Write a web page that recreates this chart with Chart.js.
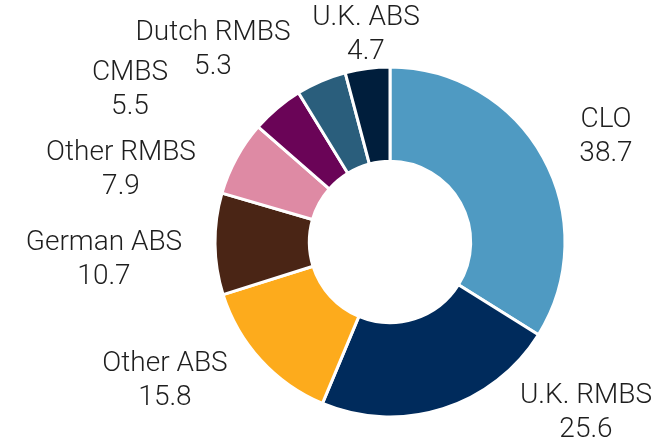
<!DOCTYPE html>
<html>
<head>
<meta charset="utf-8">
<script src="https://cdn.jsdelivr.net/npm/chart.js@4/dist/chart.umd.min.js"></script>
<style>
  html, body { margin: 0; padding: 0; background: #fff; }
  #wrap { width: 667px; height: 443px; }
</style>
</head>
<body>
<div id="wrap"><canvas id="donut"></canvas></div>
<script>
// data (clockwise from 12 o'clock)
const categories = ['CLO', 'U.K. RMBS', 'Other ABS', 'German ABS', 'Other RMBS', 'CMBS', 'Dutch RMBS', 'U.K. ABS'];
const values = [38.7, 25.6, 15.8, 10.7, 7.9, 5.5, 5.3, 4.7];
const colors = ['#4f9ac2', '#002b5c', '#fdab1c', '#4a2515', '#de8aa4', '#6a0457', '#2a5e7c', '#001e3c'];

// where each label sits, relative to the doughnut centre (first line)
const labelOffsets = [
  [216, -122], [196, 154], [-225, 122], [-286, 1],
  [-269, -89], [-260, -169], [-177, -209], [-24, -224]
];

const labelPlugin = {
  id: 'outsideLabels',
  afterDatasetsDraw: (chart) => {
    const ctx = chart.ctx;
    const arc = chart.getDatasetMeta(0).data[0];
    const cx = arc.x, cy = arc.y;
    ctx.save();
    ctx.font = '300 28px Roboto';
    ctx.fillStyle = '#1e1e1e';
    ctx.textAlign = 'center';
    ctx.textBaseline = 'middle';
    chart.data.labels.forEach((label, i) => {
      const [dx, dy] = labelOffsets[i];
      ctx.fillText(label, cx + dx, cy + dy);
      ctx.fillText(chart.data.datasets[0].data[i].toFixed(1), cx + dx, cy + dy + 34);
    });
    ctx.restore();
  }
};

new Chart(document.getElementById('donut').getContext('2d'), {
  type: 'doughnut',
  data: {
    labels: categories,
    datasets: [{
      data: values,
      backgroundColor: colors,
      borderColor: '#ffffff',
      borderWidth: 3
    }]
  },
  options: {
    responsive: true,
    maintainAspectRatio: false,
    animation: false,
    radius: 175,
    cutout: 92,
    layout: { padding: { left: 113, right: 0, top: 41, bottom: 0 } },
    plugins: {
      legend: { display: false },
      tooltip: { enabled: false }
    }
  },
  plugins: [labelPlugin]
});
</script>
</body>
</html>
